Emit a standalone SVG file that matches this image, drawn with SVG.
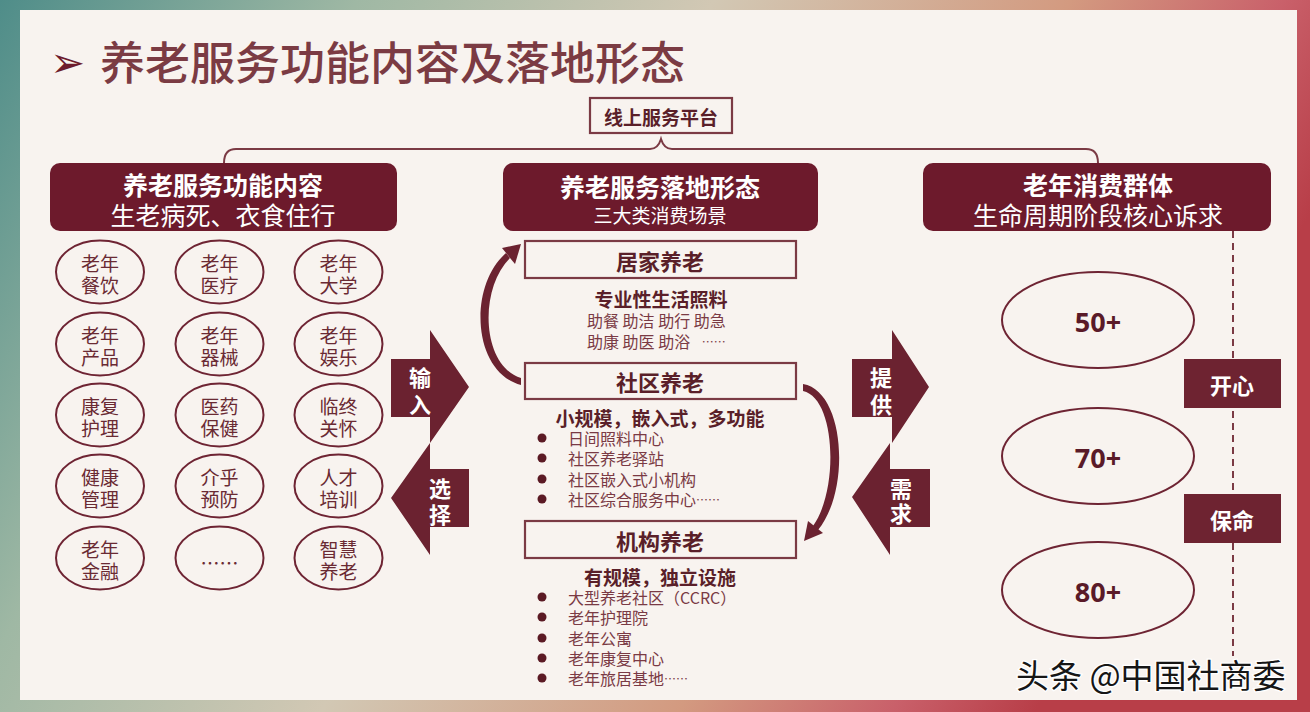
<svg xmlns="http://www.w3.org/2000/svg" width="1310" height="712" viewBox="0 0 1310 712">
<defs>
<linearGradient id="bg" x1="0" y1="0" x2="1" y2="0.3">
<stop offset="0" stop-color="#4f8d89"/>
<stop offset="0.25" stop-color="#9fb8a4"/>
<stop offset="0.5" stop-color="#d2c8b4"/>
<stop offset="0.75" stop-color="#d39a80"/>
<stop offset="0.9" stop-color="#c9606a"/>
<stop offset="1" stop-color="#b83e48"/>
</linearGradient>
<style>
.cjk{font-family:"Noto Sans CJK SC","Noto Sans",sans-serif;}
.hdr{fill:#6d1a2c;}
.hw{fill:#ffffff;text-anchor:middle;dominant-baseline:central;}
.ov{fill:#f8f3ef;stroke:#6e2433;stroke-width:2;}
.ot{fill:#6a2a33;font-size:19px;text-anchor:middle;dominant-baseline:central;}
.bx{fill:none;stroke:#7b3a44;stroke-width:2.2;}
.bt{fill:#5a1f29;font-weight:bold;text-anchor:middle;dominant-baseline:central;}
.it{fill:#7a3a44;font-size:16px;dominant-baseline:central;}
.dot{fill:#5b1a24;}
.arw{fill:#6b2230;}
.aw{fill:#ffffff;font-size:22px;font-weight:bold;text-anchor:middle;dominant-baseline:central;}
.age{fill:#5a1a28;font-size:27px;font-weight:bold;text-anchor:middle;dominant-baseline:central;font-family:"Open Sans","Noto Sans",sans-serif;}
.ln{fill:none;stroke:#7b3a44;stroke-width:2;}
.crv{fill:#6b2230;}
</style>
</defs>
<rect x="0" y="0" width="1310" height="712" fill="url(#bg)"/>
<rect x="20" y="10" width="1277" height="690" fill="#f8f3ef"/>

<g id="title">
<text x="50" y="62" font-family="DejaVu Sans,sans-serif" font-size="42" fill="#6d1b2c" dominant-baseline="central">➢</text>
<text x="100" y="60" class="cjk" font-size="45" fill="#7b3b43" font-weight="500" dominant-baseline="central">养老服务功能内容及落地形态</text>
</g>

<g id="connectors">
<path class="ln" d="M224 163 Q224 149 236 149 L650 149 Q658 149 661 139 Q664 149 672 149 L1086 149 Q1098 149 1098 163"/>
<path class="ln" d="M1233 231 L1233 656" stroke-dasharray="7 5"/>
<path class="crv" d="M521 385 C472 372 468 286 506 253 L510 258 C478 290 482 366 521 378 Z"/>
<polygon class="crv" points="521,244 502,248 515,264"/>
<path class="crv" d="M803 384 C845 391 851 490 818 530 L813 526 C839 490 836 398 803 391 Z"/>
<polygon class="crv" points="804,541 808,521 823,533"/>
</g>

<g id="platform" class="cjk">
<rect x="590" y="98" width="142" height="35" class="bx"/>
<text x="661" y="116" class="bt" font-size="19">线上服务平台</text>
</g>

<g id="hdr-left" class="cjk">
<rect x="50" y="163" width="347" height="68" rx="10" class="hdr"/>
<text x="223" y="184" class="hw" font-size="25" font-weight="bold">养老服务功能内容</text>
<text x="223" y="214" class="hw" font-size="25">生老病死、衣食住行</text>
</g>
<g id="hdr-mid" class="cjk">
<rect x="503" y="163" width="315" height="68" rx="10" class="hdr"/>
<text x="660" y="186" class="hw" font-size="25" font-weight="bold">养老服务落地形态</text>
<text x="660" y="214" class="hw" font-size="19">三大类消费场景</text>
</g>
<g id="hdr-right" class="cjk">
<rect x="923" y="163" width="348" height="68" rx="10" class="hdr"/>
<text x="1098" y="184" class="hw" font-size="25" font-weight="bold">老年消费群体</text>
<text x="1098" y="214" class="hw" font-size="25">生命周期阶段核心诉求</text>
</g>

<g id="functions" class="cjk">
<g id="f1"><ellipse cx="100" cy="272" rx="44" ry="31.5" class="ov"/><text x="100" y="262" class="ot">老年</text><text x="100" y="284" class="ot">餐饮</text></g>
<g id="f2"><ellipse cx="219.5" cy="272" rx="44" ry="31.5" class="ov"/><text x="219.5" y="262" class="ot">老年</text><text x="219.5" y="284" class="ot">医疗</text></g>
<g id="f3"><ellipse cx="338.5" cy="272" rx="44" ry="31.5" class="ov"/><text x="338.5" y="262" class="ot">老年</text><text x="338.5" y="284" class="ot">大学</text></g>
<g id="f4"><ellipse cx="100" cy="344" rx="44" ry="31.5" class="ov"/><text x="100" y="334" class="ot">老年</text><text x="100" y="356" class="ot">产品</text></g>
<g id="f5"><ellipse cx="219.5" cy="344" rx="44" ry="31.5" class="ov"/><text x="219.5" y="334" class="ot">老年</text><text x="219.5" y="356" class="ot">器械</text></g>
<g id="f6"><ellipse cx="338.5" cy="344" rx="44" ry="31.5" class="ov"/><text x="338.5" y="334" class="ot">老年</text><text x="338.5" y="356" class="ot">娱乐</text></g>
<g id="f7"><ellipse cx="100" cy="415" rx="44" ry="31.5" class="ov"/><text x="100" y="405" class="ot">康复</text><text x="100" y="427" class="ot">护理</text></g>
<g id="f8"><ellipse cx="219.5" cy="415" rx="44" ry="31.5" class="ov"/><text x="219.5" y="405" class="ot">医药</text><text x="219.5" y="427" class="ot">保健</text></g>
<g id="f9"><ellipse cx="338.5" cy="415" rx="44" ry="31.5" class="ov"/><text x="338.5" y="405" class="ot">临终</text><text x="338.5" y="427" class="ot">关怀</text></g>
<g id="f10"><ellipse cx="100" cy="486" rx="44" ry="31.5" class="ov"/><text x="100" y="476" class="ot">健康</text><text x="100" y="498" class="ot">管理</text></g>
<g id="f11"><ellipse cx="219.5" cy="486" rx="44" ry="31.5" class="ov"/><text x="219.5" y="476" class="ot">介乎</text><text x="219.5" y="498" class="ot">预防</text></g>
<g id="f12"><ellipse cx="338.5" cy="486" rx="44" ry="31.5" class="ov"/><text x="338.5" y="476" class="ot">人才</text><text x="338.5" y="498" class="ot">培训</text></g>
<g id="f13"><ellipse cx="100" cy="558" rx="44" ry="31.5" class="ov"/><text x="100" y="548" class="ot">老年</text><text x="100" y="570" class="ot">金融</text></g>
<g id="f14"><ellipse cx="219.5" cy="558" rx="44" ry="31.5" class="ov"/><text x="219.5" y="562" class="ot" font-size="14">……</text></g>
<g id="f15"><ellipse cx="338.5" cy="558" rx="44" ry="31.5" class="ov"/><text x="338.5" y="548" class="ot">智慧</text><text x="338.5" y="570" class="ot">养老</text></g>
</g>

<g id="arrow-input" class="cjk">
<polygon class="arw" points="391,359 430,359 430,330 469,387 430,443 430,417 391,417"/>
<text x="420" y="376" class="aw">输</text><text x="420" y="403" class="aw">入</text>
</g>
<g id="arrow-select" class="cjk">
<polygon class="arw" points="469,469 430,469 430,443 391,498 430,555 430,527 469,527"/>
<text x="440" y="487" class="aw">选</text><text x="440" y="513" class="aw">择</text>
</g>
<g id="arrow-provide" class="cjk">
<polygon class="arw" points="852,359 892,359 892,330 929,387 892,443 892,417 852,417"/>
<text x="881" y="376" class="aw">提</text><text x="881" y="403" class="aw">供</text>
</g>
<g id="arrow-demand" class="cjk">
<polygon class="arw" points="930,469 890,469 890,443 852,497 890,555 890,527 930,527"/>
<text x="901" y="487" class="aw">需</text><text x="901" y="512" class="aw">求</text>
</g>

<g id="home" class="cjk">
<rect x="525" y="241" width="271" height="37" class="bx"/>
<text x="660" y="260" class="bt" font-size="22">居家养老</text>
<text x="661" y="298" class="bt" font-size="19">专业性生活照料</text>
<text x="587" y="320" class="it" font-size="17">助餐 助洁 助行 助急</text>
<text x="587" y="341" class="it" font-size="17">助康 助医 助浴 <tspan font-size="12" dx="8">……</tspan></text>
</g>

<g id="community" class="cjk">
<rect x="525" y="363" width="271" height="36" class="bx"/>
<text x="660" y="381" class="bt" font-size="22">社区养老</text>
<text x="660" y="417" class="bt" font-size="19">小规模，嵌入式，多功能</text>
<circle cx="542" cy="438" r="4.5" class="dot"/><text x="568" y="438" class="it">日间照料中心</text>
<circle cx="542" cy="458" r="4.5" class="dot"/><text x="568" y="458" class="it">社区养老驿站</text>
<circle cx="542" cy="479" r="4.5" class="dot"/><text x="568" y="479" class="it">社区嵌入式小机构</text>
<circle cx="542" cy="499" r="4.5" class="dot"/><text x="568" y="499" class="it">社区综合服务中心<tspan font-size="12">……</tspan></text>
</g>

<g id="institution" class="cjk">
<rect x="525" y="521" width="271" height="37" class="bx"/>
<text x="660" y="540" class="bt" font-size="22">机构养老</text>
<text x="660" y="576" class="bt" font-size="19">有规模，独立设施</text>
<circle cx="542" cy="597" r="4.5" class="dot"/><text x="568" y="597" class="it">大型养老社区（CCRC）</text>
<circle cx="542" cy="617" r="4.5" class="dot"/><text x="568" y="617" class="it">老年护理院</text>
<circle cx="542" cy="638" r="4.5" class="dot"/><text x="568" y="638" class="it">老年公寓</text>
<circle cx="542" cy="658" r="4.5" class="dot"/><text x="568" y="658" class="it">老年康复中心</text>
<circle cx="542" cy="678" r="4.5" class="dot"/><text x="568" y="678" class="it">老年旅居基地<tspan font-size="12">……</tspan></text>
</g>

<g id="age50"><ellipse cx="1098" cy="320" rx="96" ry="48" class="ov"/><text x="1098" y="321" class="age">50+</text></g>
<g id="age70"><ellipse cx="1098" cy="456" rx="96" ry="48" class="ov"/><text x="1098" y="457" class="age">70+</text></g>
<g id="age80"><ellipse cx="1098" cy="590" rx="96" ry="48" class="ov"/><text x="1098" y="591" class="age">80+</text></g>

<g id="happy" class="cjk">
<rect x="1184" y="359" width="97" height="49" fill="#6e2331"/>
<text x="1232" y="384" class="hw" font-size="22" font-weight="bold">开心</text>
</g>
<g id="life" class="cjk">
<rect x="1184" y="494" width="97" height="49" fill="#6e2331"/>
<text x="1232" y="519" class="hw" font-size="22" font-weight="bold">保命</text>
</g>

<text x="1016" y="674" class="cjk" font-size="33" fill="#161616" stroke="#ffffff" stroke-width="2.5" paint-order="stroke" dominant-baseline="central">头条 @中国社商委</text>
</svg>
